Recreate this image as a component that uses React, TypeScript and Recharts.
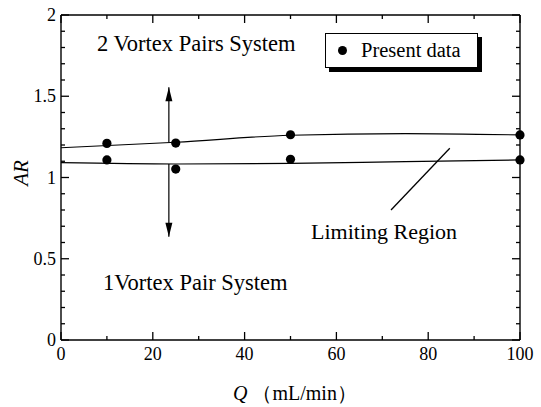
import React from 'react';
import { ComposedChart, Line, Scatter, XAxis, YAxis, ReferenceLine } from 'recharts';

// measured points
const qPoints = [10, 25, 50, 100];
const upperAR = [1.21, 1.212, 1.263, 1.262];
const lowerAR = [1.108, 1.052, 1.112, 1.108];

// boundary curves of the limiting region
const curveQ = [0, 25, 50, 75, 100];
const upperCurveAR = [1.183, 1.217, 1.26, 1.27, 1.262];
const lowerCurveAR = [1.091, 1.083, 1.087, 1.098, 1.108];

// annotation lines
const arrowQ = 23.5;
const arrowUpAR = [1.215, 1.555];
const arrowDownAR = [1.083, 0.636];
const pointerQ = [71.9, 84.7];
const pointerAR = [0.8, 1.18];

const xTicks = [0, 10, 20, 30, 40, 50, 60, 70, 80, 90, 100];
const yTicks = [
  0, 0.1, 0.2, 0.3, 0.4, 0.5, 0.6, 0.7, 0.8, 0.9, 1, 1.1, 1.2, 1.3, 1.4, 1.5,
  1.6, 1.7, 1.8, 1.9, 2,
];

const FONT = 'Liberation Serif';

const zip = (qs: number[], ars: number[]) => qs.map((q, i) => ({ q, ar: ars[i] }));

const upperPts = zip(qPoints, upperAR);
const lowerPts = zip(qPoints, lowerAR);
const upperCurve = zip(curveQ, upperCurveAR);
const lowerCurve = zip(curveQ, lowerCurveAR);
const arrowUp = zip([arrowQ, arrowQ], arrowUpAR);
const arrowDown = zip([arrowQ, arrowQ], arrowDownAR);
const pointer = zip(pointerQ, pointerAR);

if (typeof document !== 'undefined') document.body.style.margin = '0';

const isMajorX = (v: number) => v % 20 === 0;
const isMajorY = (v: number) => Math.abs(v * 2 - Math.round(v * 2)) < 1e-6;

// tick mark anchors on the four edges of the frame
const bottomTicks = xTicks.map((v) => ({ q: v, ar: 0 }));
const topTicks = xTicks.map((v) => ({ q: v, ar: 2 }));
const leftTicks = yTicks.map((v) => ({ q: 0, ar: v }));
const rightTicks = yTicks.map((v) => ({ q: 100, ar: v }));

// shape drawing an inward tick; dx/dy give the inward direction
const tickShape = (dx: number, dy: number, axis: 'x' | 'y') => (props: any) => {
  const { cx, cy, payload } = props;
  const major = axis === 'x' ? isMajorX(payload.q) : isMajorY(payload.ar);
  const len = major ? 8 : 4;
  return (
    <line
      x1={cx}
      y1={cy}
      x2={cx + dx * len}
      y2={cy + dy * len}
      stroke="#000"
      strokeWidth={1.3}
    />
  );
};

const BottomLabel = (props: any) => {
  const { x, y, payload } = props;
  if (!isMajorX(payload.value)) return <g />;
  return (
    <text x={x} y={y + 20} textAnchor="middle" fontSize={18} fontFamily={FONT} fill="#000">
      {payload.value}
    </text>
  );
};

const LeftLabel = (props: any) => {
  const { x, y, payload } = props;
  if (!isMajorY(payload.value)) return <g />;
  return (
    <text x={x - 5} y={y + 6} textAnchor="end" fontSize={18} fontFamily={FONT} fill="#000">
      {String(payload.value)}
    </text>
  );
};

const Dot = (props: any) => {
  const { cx, cy } = props;
  return <circle cx={cx} cy={cy} r={4.6} fill="#000" />;
};

const arrowHead = (dir: 'up' | 'down') => (props: any) => {
  const { cx, cy, index } = props;
  if (index !== 1) return <g key={`a${index}`} />;
  const b = dir === 'up' ? cy + 14 : cy - 14;
  return (
    <polygon
      key={`a${index}`}
      points={`${cx},${cy} ${cx - 3.5},${b} ${cx + 3.5},${b}`}
      fill="#000"
    />
  );
};

const textStyle: React.CSSProperties = {
  position: 'absolute',
  fontFamily: FONT,
  fontSize: 22.5,
  lineHeight: '22.5px',
  color: '#000',
  whiteSpace: 'nowrap',
};

const axisLine = { stroke: '#000', strokeWidth: 1.4 };

export default function App() {
  return (
    <div style={{ position: 'relative', width: 541, height: 407, background: '#fff' }}>
      <ComposedChart width={541} height={407} margin={{ top: 15, right: 21, left: 0, bottom: 0 }}>
        <XAxis
          dataKey="q"
          type="number"
          domain={[0, 100]}
          ticks={xTicks}
          interval={0}
          height={67}
          tickSize={0}
          tickMargin={0}
          tickLine={false}
          tick={BottomLabel}
          axisLine={axisLine}
        />
        <YAxis
          type="number"
          domain={[0, 2]}
          ticks={yTicks}
          interval={0}
          width={61}
          tickSize={0}
          tickMargin={0}
          tickLine={false}
          tick={LeftLabel}
          axisLine={axisLine}
        />

        {/* frame: top and right edges */}
        <ReferenceLine y={2} stroke="#000" strokeWidth={1.4} ifOverflow="visible" />
        <ReferenceLine x={100} stroke="#000" strokeWidth={1.4} ifOverflow="visible" />

        {/* inward tick marks */}
        <Scatter data={bottomTicks} dataKey="ar" shape={tickShape(0, -1, 'x')} isAnimationActive={false} />
        <Scatter data={topTicks} dataKey="ar" shape={tickShape(0, 1, 'x')} isAnimationActive={false} />
        <Scatter data={leftTicks} dataKey="ar" shape={tickShape(1, 0, 'y')} isAnimationActive={false} />
        <Scatter data={rightTicks} dataKey="ar" shape={tickShape(-1, 0, 'y')} isAnimationActive={false} />

        <Line
          data={upperCurve}
          dataKey="ar"
          type="monotone"
          stroke="#000"
          strokeWidth={1.2}
          dot={false}
          isAnimationActive={false}
        />
        <Line
          data={lowerCurve}
          dataKey="ar"
          type="monotone"
          stroke="#000"
          strokeWidth={1.2}
          dot={false}
          isAnimationActive={false}
        />
        <Line
          data={arrowUp}
          dataKey="ar"
          type="linear"
          stroke="#000"
          strokeWidth={1.2}
          dot={arrowHead('up')}
          activeDot={false}
          isAnimationActive={false}
        />
        <Line
          data={arrowDown}
          dataKey="ar"
          type="linear"
          stroke="#000"
          strokeWidth={1.2}
          dot={arrowHead('down')}
          activeDot={false}
          isAnimationActive={false}
        />
        <Line
          data={pointer}
          dataKey="ar"
          type="linear"
          stroke="#000"
          strokeWidth={1.3}
          dot={false}
          isAnimationActive={false}
        />
        <Scatter data={upperPts} dataKey="ar" fill="#000" shape={Dot} isAnimationActive={false} />
        <Scatter data={lowerPts} dataKey="ar" fill="#000" shape={Dot} isAnimationActive={false} />
      </ComposedChart>

      {/* legend */}
      <div
        style={{
          position: 'absolute',
          left: 325,
          top: 33,
          width: 153,
          height: 35,
          border: '1px solid #000',
          boxShadow: '4px 4px 0 #000',
          background: '#fff',
          display: 'flex',
          alignItems: 'center',
          fontFamily: FONT,
          fontSize: 20.5,
          color: '#000',
          boxSizing: 'border-box',
        }}
      >
        <span
          style={{
            display: 'inline-block',
            width: 9,
            height: 9,
            borderRadius: '50%',
            background: '#000',
            marginLeft: 12,
            marginRight: 14,
          }}
        />
        Present data
      </div>

      {/* axis titles */}
      <div
        style={{
          ...textStyle,
          fontSize: 21,
          lineHeight: '21px',
          fontStyle: 'italic',
          left: 21,
          top: 173,
          transform: 'translate(-50%, -50%) rotate(-90deg)',
        }}
      >
        AR
      </div>
      <div style={{ ...textStyle, fontSize: 20, lineHeight: '20px', left: 233, top: 383 }}>
        <i>Q</i>
        {'  （mL/min）'}
      </div>

      <div style={{ ...textStyle, left: 97, top: 33 }}>2 Vortex Pairs System</div>
      <div style={{ ...textStyle, left: 103, top: 272 }}>1Vortex Pair System</div>
      <div style={{ ...textStyle, fontSize: 22, lineHeight: '22px', left: 311, top: 221 }}>
        Limiting Region
      </div>
    </div>
  );
}
